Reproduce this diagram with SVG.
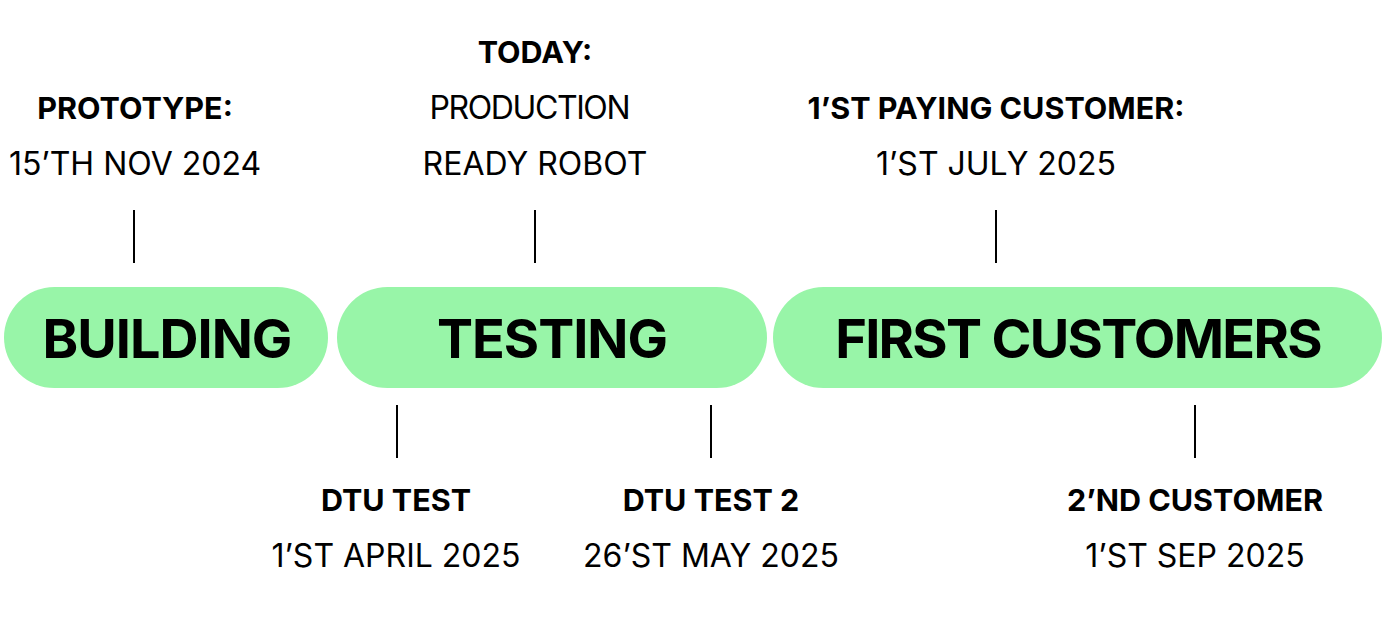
<svg xmlns="http://www.w3.org/2000/svg" width="1384" height="622" viewBox="0 0 1384 622">
<style>
.pill{fill:#98F5A8}
.big{font-family:Inter,"Liberation Sans",sans-serif;font-weight:700;font-size:54px;fill:#000;text-anchor:middle;letter-spacing:-1px}
.b{font-family:Inter,"Liberation Sans",sans-serif;font-weight:700;font-size:30.5px;fill:#000;text-anchor:middle}
.r{font-family:Inter,"Liberation Sans",sans-serif;font-weight:400;font-size:32px;fill:#000;text-anchor:middle}
.tick{stroke:#000;stroke-width:2}
</style>
<rect width="1384" height="622" fill="#fff"/>
<g id="building"><rect class="pill" x="4" y="287" width="324" height="101" rx="50.5"/><text class="big" x="167" y="358">BUILDING</text></g>
<g id="testing"><rect class="pill" x="337" y="287" width="430" height="101" rx="50.5"/><text class="big" x="552" y="358">TESTING</text></g>
<g id="first-customers"><rect class="pill" x="773" y="287" width="609" height="101" rx="50.5"/><text class="big" x="1078" y="358" style="letter-spacing:-1.7px">FIRST CUSTOMERS</text></g>
<g id="prototype"><text class="b" x="135" y="119">PROTOTYPE:</text><text class="r" x="135" y="175">15’TH NOV 2024</text></g>
<g id="today"><text class="b" x="535" y="63">TODAY:</text><text class="r" x="530" y="119" textLength="201">PRODUCTION</text><text class="r" x="535" y="175">READY ROBOT</text></g>
<g id="first-paying"><text class="b" x="996" y="119">1’ST PAYING CUSTOMER:</text><text class="r" x="996" y="175">1’ST JULY 2025</text></g>
<g id="dtu-test"><text class="b" x="396" y="511">DTU TEST</text><text class="r" x="396" y="567">1’ST APRIL 2025</text></g>
<g id="dtu-test-2"><text class="b" x="711" y="511">DTU TEST 2</text><text class="r" x="711" y="567">26’ST MAY 2025</text></g>
<g id="second-customer"><text class="b" x="1195" y="511">2’ND CUSTOMER</text><text class="r" x="1195" y="567">1’ST SEP 2025</text></g>
<g id="connectors">
<line class="tick" x1="134" y1="210" x2="134" y2="263"/>
<line class="tick" x1="535" y1="210" x2="535" y2="263"/>
<line class="tick" x1="996" y1="210" x2="996" y2="263"/>
<line class="tick" x1="397" y1="405" x2="397" y2="458"/>
<line class="tick" x1="711" y1="405" x2="711" y2="458"/>
<line class="tick" x1="1195" y1="405" x2="1195" y2="458"/>
</g>
</svg>
